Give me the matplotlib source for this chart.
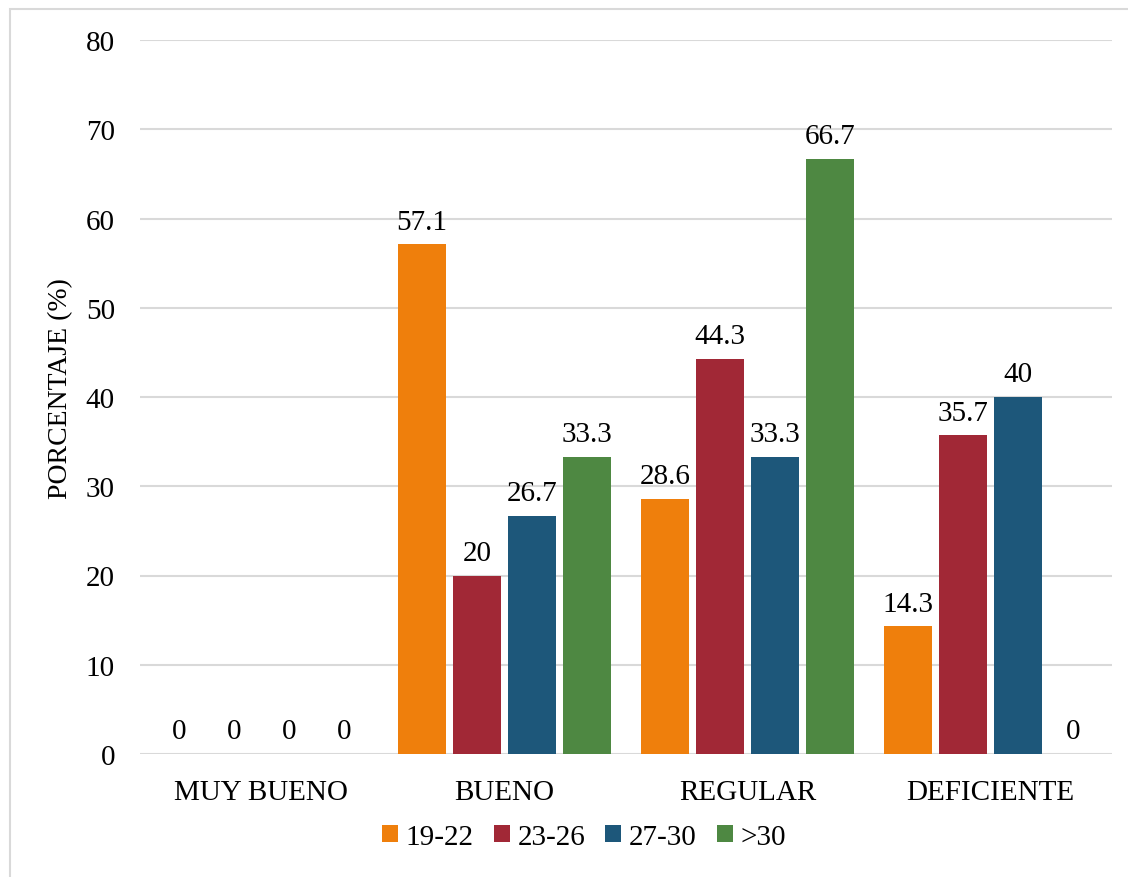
import numpy as np
import matplotlib.pyplot as plt
from matplotlib.patches import Rectangle

categorias = ['MUY BUENO', 'BUENO', 'REGULAR', 'DEFICIENTE']
grupos = ['19-22', '23-26', '27-30', '>30']
g19_22 = [0, 57.1, 28.6, 14.3]
g23_26 = [0, 20, 44.3, 35.7]
g27_30 = [0, 26.7, 33.3, 40]
g_30 = [0, 33.3, 66.7, 0]
colores = ['#EF7F0C', '#A12836', '#1D577A', '#4E8842']

plt.rcParams['font.family'] = ['Liberation Serif', 'DejaVu Serif']
plt.rcParams['font.size'] = 21

fig = plt.figure(figsize=(11.28, 8.78), dpi=100)
fig.patches.append(Rectangle((10 / 1128, -0.1), 1.2, 1 - 10 / 878 + 0.1,
                             transform=fig.transFigure, fill=False,
                             edgecolor='#D9D9D9', linewidth=1.5))

ax = fig.add_axes([140 / 1128, 123 / 878, 972 / 1128, 714 / 878])

x = np.arange(len(categorias))
paso = 0.226
ancho = 0.2
series = [g19_22, g23_26, g27_30, g_30]
for i, (vals, col, nom) in enumerate(zip(series, colores, grupos)):
    pos = x + (i - 1.5) * paso
    ax.bar(pos, vals, ancho, color=col, label=nom, zorder=3)
    for xp, v in zip(pos, vals):
        ax.annotate(f'{v:g}', (xp, v), xytext=(0, 7), textcoords='offset points',
                    ha='center', va='bottom', fontsize=21)

ax.set_xlim(-0.5, 3.5)
ax.set_ylim(0, 80)
ax.set_yticks(np.arange(0, 81, 10))
ax.set_xticks(x)
ax.set_xticklabels(categorias)
ax.yaxis.grid(True, color='#D9D9D9', linewidth=1.5, zorder=0)
ax.set_axisbelow(True)
for s in ax.spines.values():
    s.set_visible(False)
ax.tick_params(axis='both', length=0)
ax.tick_params(axis='x', pad=18)
ax.tick_params(axis='y', pad=18)
ax.set_ylabel('PORCENTAJE (%)', labelpad=9, fontsize=20, y=0.513)

fig.legend(loc='center', bbox_to_anchor=(584 / 1128, 1 - 838 / 878), ncol=4,
           frameon=False, handlelength=0.55, handleheight=0.55,
           handletextpad=0.25, columnspacing=0.7, fontsize=21)

fig.savefig('out.png', dpi=100)
